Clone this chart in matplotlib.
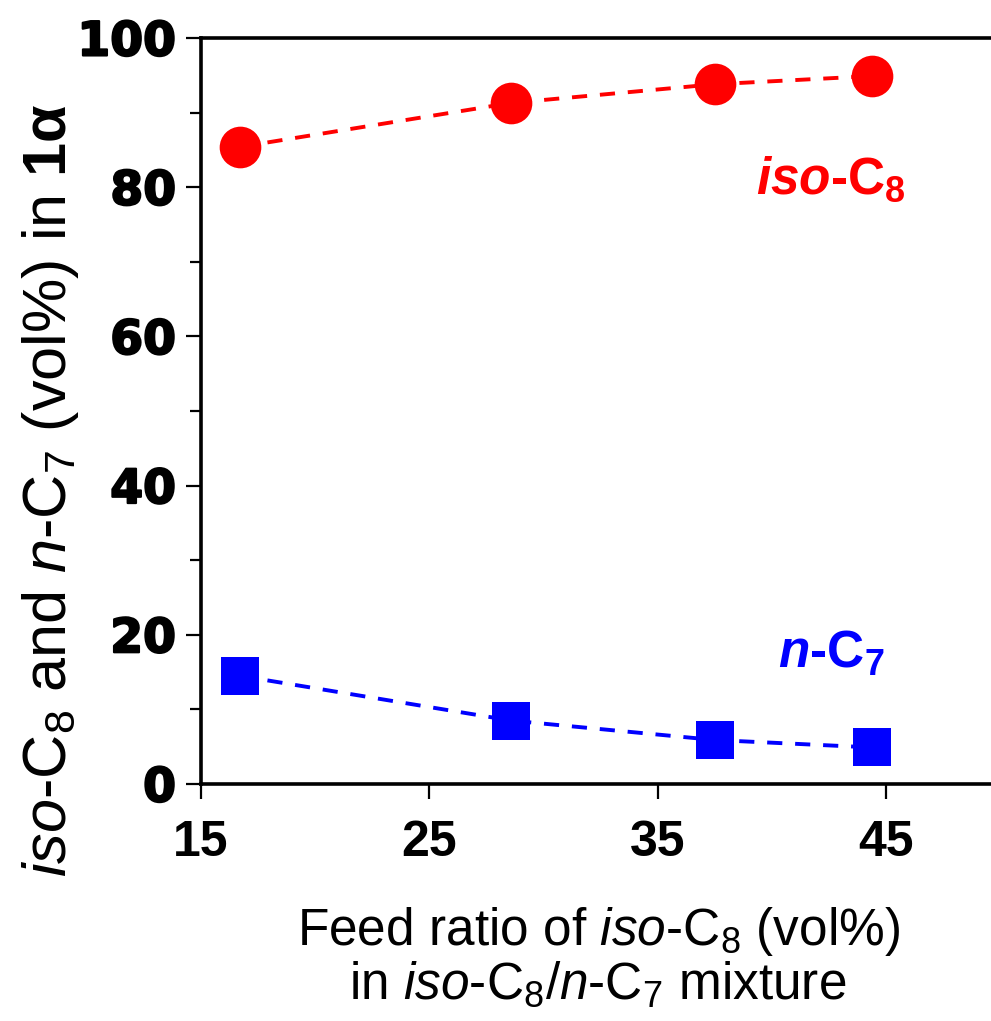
import matplotlib
matplotlib.use("Agg")
import matplotlib.pyplot as plt
import matplotlib.patheffects as pe

# feed ratio of iso-C8 (vol%)
feed_ratio = [16.7, 28.6, 37.5, 44.4]
# composition inside 1alpha (vol%)
iso_c8 = [85.4, 91.3, 93.8, 94.9]
n_c7 = [14.5, 8.5, 5.9, 4.9]

x_ticks = [15, 25, 35, 45]
y_ticks = [0, 20, 40, 60, 80, 100]
y_minor = [10, 30, 50, 70, 90]

plt.rcParams['mathtext.fontset'] = 'custom'
plt.rcParams['mathtext.rm'] = 'Liberation Sans'
plt.rcParams['mathtext.it'] = 'Liberation Sans:italic'
plt.rcParams['mathtext.bf'] = 'Liberation Sans:bold'
plt.rcParams['mathtext.bfit'] = 'Liberation Sans:italic:bold'

fig = plt.figure(figsize=(9.91, 10.21), dpi=100)
ax = fig.add_axes([201 / 991, 1 - 784 / 1021, 799 / 991, 746 / 1021])

ax.plot(feed_ratio, iso_c8, color='red', lw=2.8, dashes=(3.9, 3.3),
        marker='o', markersize=30, markeredgewidth=0, clip_on=False)
ax.plot(feed_ratio, n_c7, color='blue', lw=2.8, dashes=(3.9, 3.3),
        marker='s', markersize=28, markeredgewidth=0, clip_on=False)

ax.set_xlim(15, 50)
ax.set_ylim(0, 100)
ax.set_xticks(x_ticks)
ax.set_yticks(y_ticks)
ax.set_yticks(y_minor, minor=True)

for side in ['left', 'top', 'bottom']:
    ax.spines[side].set_linewidth(2.6)
ax.spines['right'].set_visible(False)

ax.tick_params(axis='both', which='major', direction='out', length=11, width=1.6)
ax.tick_params(axis='y', which='minor', direction='out', length=8, width=1.6)
ax.tick_params(axis='x', pad=15)
ax.tick_params(axis='y', pad=7)

for label in ax.get_xticklabels():
    label.set_fontsize(36)
    label.set_fontweight('bold')
    label.set_family('Liberation Sans')
for label in ax.get_yticklabels():
    label.set_fontsize(34)
    label.set_fontweight('bold')
    label.set_family('DejaVu Sans')
    label.set_path_effects([pe.withStroke(linewidth=1.5, foreground='black')])

ax.set_ylabel(r'$\it{iso}$-C$_8$ and $\it{n}$-C$_7$ (vol%) in $\mathbf{1α}$',
              fontsize=44, family='Liberation Sans')
ax.yaxis.label.set(va='center', ha='center')
ax.yaxis.set_label_coords(-0.188, 0.394)

ax.set_xlabel('Feed ratio of $\\it{iso}$-C$_8$ (vol%)\nin $\\it{iso}$-C$_8$/$\\it{n}$-C$_7$ mixture',
              fontsize=37, family='Liberation Sans', linespacing=1.05)
ax.xaxis.label.set(va='center', ha='center')
ax.xaxis.set_label_coords(0.497, -0.232)

ax.text(42.6, 81.0, r'$\mathbfit{iso}$-C$_\mathbf{8}$', color='red', fontsize=37,
        fontweight='bold', family='Liberation Sans', ha='center', va='center')
ax.text(42.6, 17.4, r'$\mathbfit{n}$-C$_\mathbf{7}$', color='blue', fontsize=37,
        fontweight='bold', family='Liberation Sans', ha='center', va='center')

fig.savefig('out.png', dpi=100)
